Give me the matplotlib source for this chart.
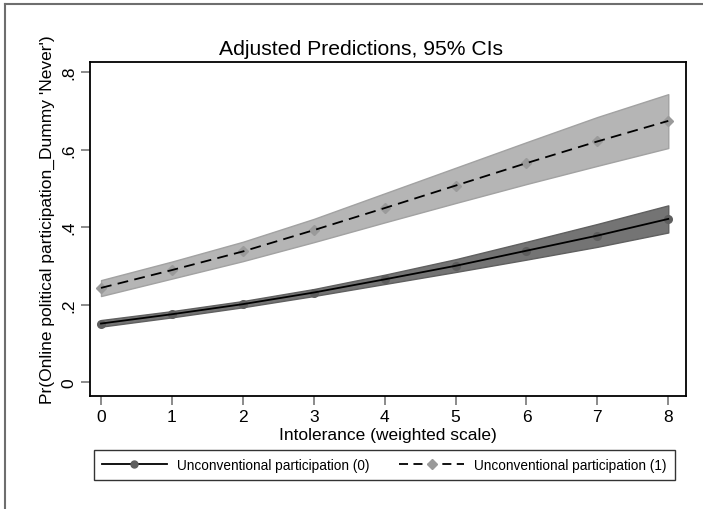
import matplotlib
matplotlib.use("Agg")
import matplotlib.pyplot as plt
from matplotlib.lines import Line2D

plt.rcParams['font.family'] = ['Liberation Sans', 'DejaVu Sans']

# Data
intolerance = [0, 1, 2, 3, 4, 5, 6, 7, 8]

pred_0 = [0.151, 0.175, 0.201, 0.231, 0.265, 0.300, 0.339, 0.378, 0.421]
lo_0 = [0.143, 0.167, 0.193, 0.222, 0.253, 0.284, 0.316, 0.349, 0.386]
hi_0 = [0.160, 0.183, 0.209, 0.240, 0.277, 0.317, 0.362, 0.408, 0.456]

pred_1 = [0.243, 0.289, 0.337, 0.392, 0.449, 0.507, 0.565, 0.621, 0.674]
lo_1 = [0.222, 0.267, 0.312, 0.361, 0.412, 0.462, 0.511, 0.558, 0.604]
hi_1 = [0.263, 0.311, 0.362, 0.421, 0.487, 0.553, 0.619, 0.684, 0.743]

yticks = [0, 0.2, 0.4, 0.6, 0.8]
ytick_labels = ['0', '.2', '.4', '.6', '.8']

labels = ["Unconventional participation (0)", "Unconventional participation (1)"]

W, H = 703, 510
fig = plt.figure(figsize=(W / 100, H / 100), dpi=100)
ax = fig.add_axes([90 / W, 1 - 397 / H, 596 / W, 334 / H])

# Confidence bands
ax.fill_between(intolerance, lo_1, hi_1, facecolor='#b5b5b5',
                edgecolor='#a2a2a2', linewidth=1, zorder=1)
ax.fill_between(intolerance, lo_0, hi_0, facecolor='#747474',
                edgecolor='#606060', linewidth=1, zorder=1)

# Predicted lines
ax.plot(intolerance, pred_0, color='black', linewidth=1.3, zorder=3)
ax.plot(intolerance, pred_0, linestyle='none', marker='o', markersize=5.5,
        color='#5e5e5e', zorder=2)
ax.plot(intolerance, pred_1, color='black', linewidth=1.3,
        dashes=(6, 3.5), zorder=3)
ax.plot(intolerance, pred_1, linestyle='none', marker='D', markersize=5,
        color='#9a9a9a', zorder=2)

ax.set_xlim(-0.155, 8.25)
ax.set_ylim(-0.036, 0.826)
ax.set_xticks(intolerance)
ax.set_yticks(yticks)
ax.set_yticklabels(ytick_labels, rotation=90, va='center')

ax.tick_params(direction='out', length=6.5, width=1.2, color='#777777',
               labelsize=12.5, pad=3)
for spine in ax.spines.values():
    spine.set_linewidth(1.3)
    spine.set_color('black')

# Titles placed like the Stata graph
fig.text(361 / W, 1 - 55 / H, "Adjusted Predictions, 95% CIs",
         fontsize=15.2, ha='center', va='baseline')
ax.set_xlabel("Intolerance (weighted scale)", fontsize=12.5, labelpad=2)
fig.text(47 / W, 1 - 220 / H,
         "Pr(Online political participation_Dummy 'Never')",
         fontsize=12.5, rotation=90, ha='center', va='center')

# Legend
handles = [
    Line2D([], [], color='black', linewidth=1.3, marker='o',
           markersize=5, markerfacecolor='#5e5e5e', markeredgecolor='#5e5e5e'),
    Line2D([], [], color='black', linewidth=1.3, dashes=(5, 3), marker='D',
           markersize=5, markerfacecolor='#9a9a9a', markeredgecolor='#9a9a9a'),
]
leg = fig.legend(handles, labels, ncol=2, loc='center',
                 bbox_to_anchor=(384 / W, 1 - 466 / H),
                 fontsize=9.8, frameon=True, fancybox=False,
                 handlelength=4.8, columnspacing=2.2, handletextpad=0.7,
                 borderpad=0.6, edgecolor='black')
leg.get_frame().set_linewidth(1.0)

# Outer graph border (cut at right and bottom like the reference)
fig.add_artist(Line2D([5 / W, 5 / W], [0, 1 - 5 / H],
                      transform=fig.transFigure, color='#6e6e6e', linewidth=1.5))
fig.add_artist(Line2D([5 / W, 1], [1 - 5 / H, 1 - 5 / H],
                      transform=fig.transFigure, color='#6e6e6e', linewidth=1.5))

fig.savefig("out.png", dpi=100)
